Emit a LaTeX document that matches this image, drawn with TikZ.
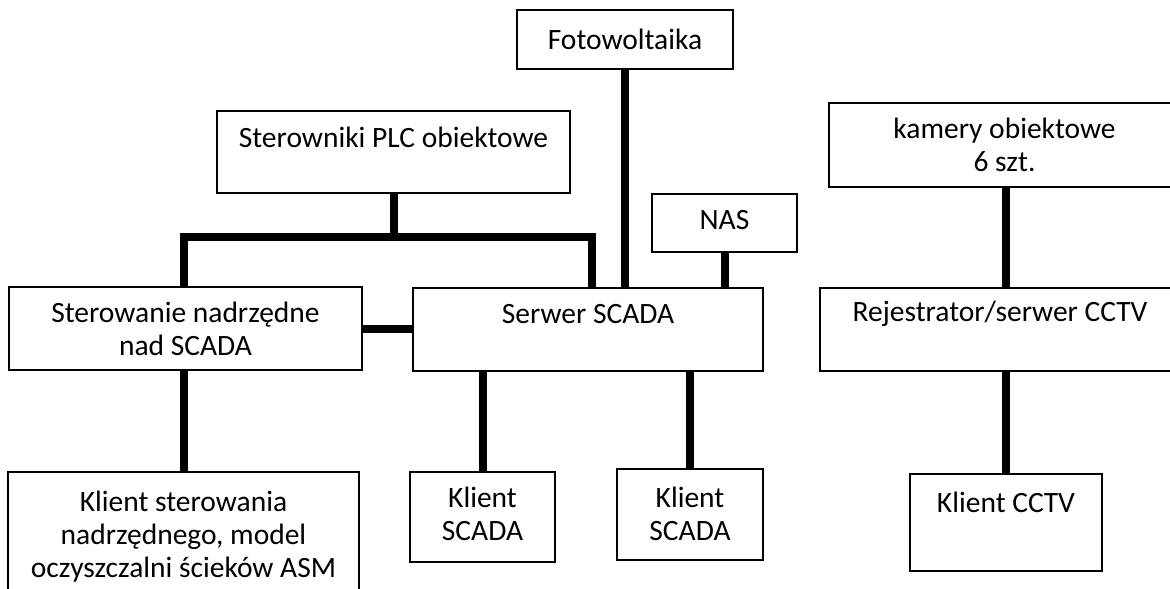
\documentclass[tikz,border=0pt]{standalone}
\usepackage{fontspec}
\setmainfont{Carlito}
\usetikzlibrary{positioning}

\begin{document}
\begin{tikzpicture}[x=1pt,y=-1pt,
    box/.style={draw,line width=1.5pt,inner sep=0pt},
    txt/.style={align=center,inner sep=0pt,font=\fontsize{29.5}{33}\selectfont},
    link/.style={line width=8pt}]

\useasboundingbox (0,0) rectangle (1170,589);
\fill[white] (0,0) rectangle (1170,589);

% name, centre, width, height
\newcommand\blok[4]
{
    \node [box,minimum width=#3pt,minimum height=#4pt] (#1) at (#2) {};
}

\blok{foto}{625,39.5}{216}{59}
\blok{plc}{393.5,152}{353}{82}
\blok{nas}{724.5,223}{145}{58}
\blok{kam}{1004.5,145}{351}{84}
\blok{ster}{185.5,328.5}{353}{83}
\blok{serw}{588,329.5}{350}{83}
\blok{rej}{1000,329.5}{360}{83}
\blok{kls}{183.5,536}{351}{128}
\blok{scadaA}{482.5,517}{145}{90}
\blok{scadaB}{690,514.5}{146}{91}
\blok{cctv}{1006,522.5}{192}{97}

\node [txt] (fototxt) at (foto) {Fotowoltaika};
\node [txt] (plctxt) at ([yshift=-27pt]plc.north) {Sterowniki PLC obiektowe};
\node [txt] (nastxt) at ([yshift=3pt]nas) {NAS};
\node [txt] (kamtxt) at (kam) {kamery obiektowe\\6 szt.};
\node [txt] (stertxt) at (ster) {Sterowanie nadrzędne\\nad SCADA};
\node [txt] (serwtxt) at ([yshift=-27pt]serw.north) {Serwer SCADA};
\node [txt] (rejtxt) at ([yshift=-27pt]rej.north) {Rejestrator/serwer CCTV};
\node [txt] (klstxt) at ([yshift=-65pt]kls.north) {Klient sterowania\\nadrzędnego, model\\oczyszczalni ścieków ASM};
\node [txt] (scadaAtxt) at ([yshift=3pt]scadaA) {Klient\\SCADA};
\node [txt] (scadaBtxt) at ([yshift=1pt]scadaB) {Klient\\SCADA};
\node [txt] (cctvtxt) at ([yshift=-29pt]cctv.north) {Klient CCTV};

% szyna PLC
\coordinate (busL) at (184,237);
\coordinate (busR) at (592,237);
\draw [link] (plc.south) -- (plc.south |- busL);
\draw [link] (ster.north -| busL) -- (busL) -- (busR) -- (serw.north -| busR);

\draw [link] (foto.south) -- (serw.north -| foto.south);
\draw [link] (nas.south) -- (serw.north -| nas.south);
\draw [link] (ster.east) -- (serw.west |- ster.east);
\draw [link] (ster.south -| kls.north) -- (kls.north);
\draw [link] (serw.south -| scadaA.north) -- (scadaA.north);
\draw [link] (serw.south -| scadaB.north) -- (scadaB.north);

% CCTV
\draw [link] (kam.south -| cctv.north) -- (rej.north -| cctv.north);
\draw [link] (rej.south -| cctv.north) -- (cctv.north);

\end{tikzpicture}
\end{document}
